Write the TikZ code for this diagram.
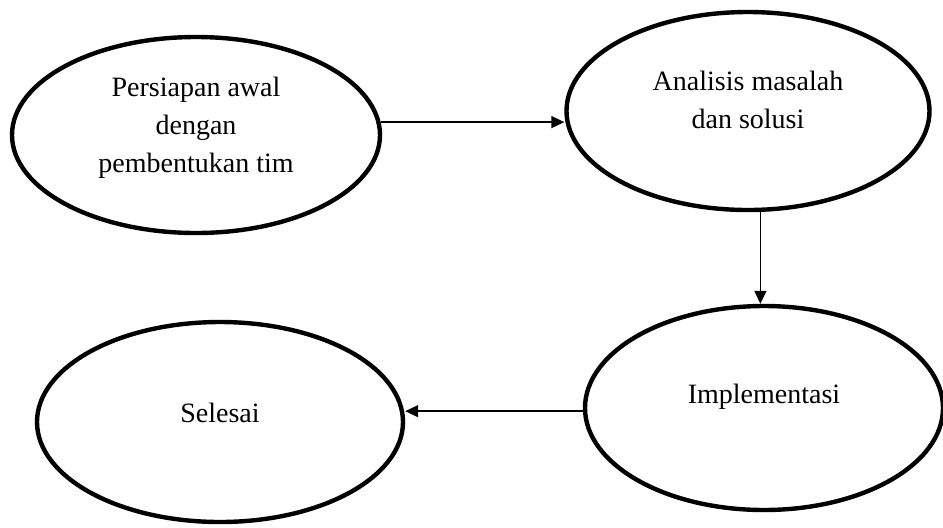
\documentclass[tikz,border=0pt]{standalone}
\usepackage{fontspec}
\setmainfont{Liberation Serif}
\usetikzlibrary{positioning,arrows.meta,shapes.geometric}
\tikzset{
  >={Triangle[length=6.5pt,width=6pt]},
  proc/.style={ellipse,draw=black,line width=2.2pt,inner sep=0pt},
  proctxt/.style={align=center,font={\fontsize{14}{19}\selectfont},inner sep=0pt},
  flow/.style={->,line width=0.7pt},
}

\begin{document}
\begin{tikzpicture}[x=0.5pt,y=-0.5pt]
  \useasboundingbox (0,0) rectangle (943,527);
  % ellipses
  \node[proc,minimum width=184pt,minimum height=98pt] (persiapan) at (196,135) {};
  \node[proc,minimum width=181.5pt,minimum height=99pt] (analisis) at (748,111) {};
  \node[proc,minimum width=179pt,minimum height=102pt] (implementasi) at (764,408) {};
  \node[proc,minimum width=183pt,minimum height=100pt] (selesai) at (220,422) {};
  % texts
  \node[proctxt] (tpersiapan) at ([yshift=3.5pt]persiapan.center) {Persiapan awal\\dengan\\pembentukan tim};
  \node[proctxt] (tanalisis) at ([yshift=5.5pt]analisis.center) {Analisis masalah\\dan solusi};
  \node[proctxt] (timplementasi) at ([yshift=5.5pt]implementasi.center) {Implementasi};
  \node[proctxt] (tselesai) at ([yshift=4.5pt]selesai.center) {Selesai};
  % arrows
  \draw[flow] (persiapan.4) -- (persiapan.4 -| analisis.west);
  \draw[flow] (analisis.-83) -- (analisis.-83 |- implementasi.north);
  \draw[flow] (implementasi.181) -- (implementasi.181 -| selesai.east);
\end{tikzpicture}
\end{document}
